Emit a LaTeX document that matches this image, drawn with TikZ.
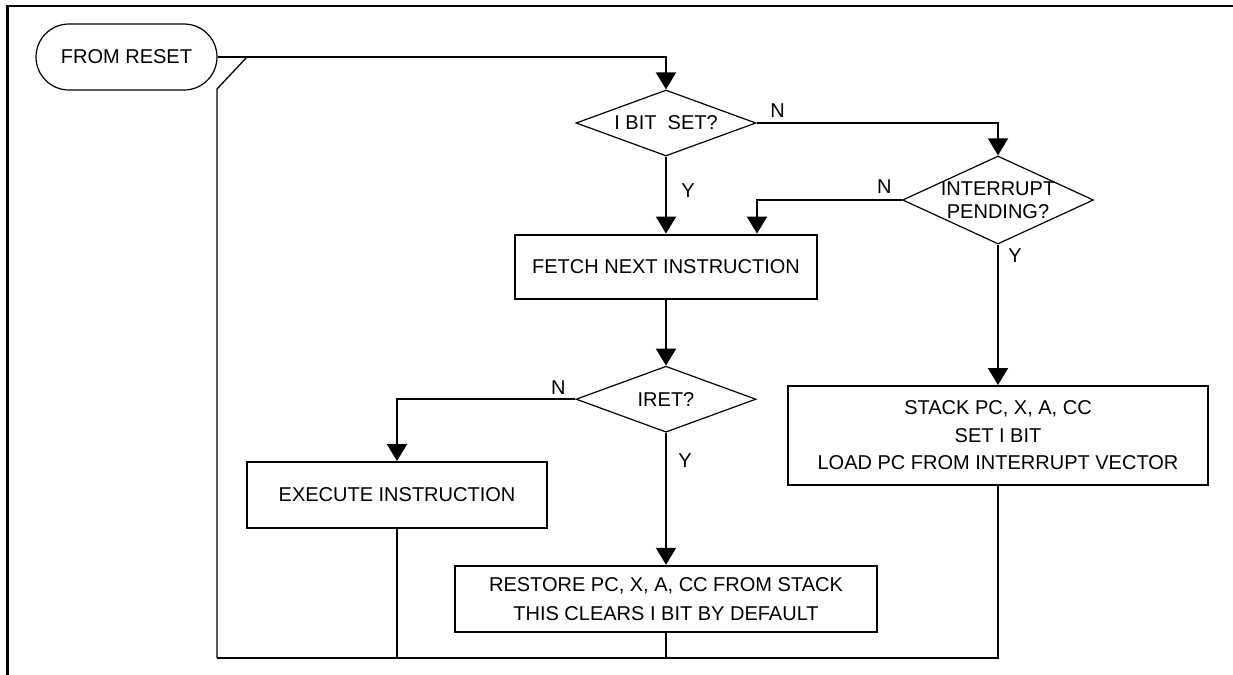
\documentclass[tikz,border=0pt]{standalone}
\usepackage{fontspec}
\setmainfont{Liberation Sans}
\usetikzlibrary{arrows.meta, positioning, shapes.geometric}
\newcommand{\flowfont}{\fontsize{10}{12}\selectfont}
\tikzset {
  terminal/.style = {draw, line width=0.6pt, rectangle, rounded corners=16.5pt, minimum width=90.5pt, minimum height=33pt, font=\flowfont},
  box/.style = {draw, line width=1pt, rectangle, align=center, fill=white, font=\flowfont},
  decision/.style = {draw, line width=0.6pt, diamond, inner sep=0pt, align=center, font=\flowfont},
  line/.style = {line width=1pt, -{Triangle[length=8.5pt, width=10pt]}},
  back/.style = {line width=1pt},
  thinback/.style = {line width=0.65pt},
  lbl/.style = {inner sep=0pt, font=\flowfont},
}

\begin{document}
\begin{tikzpicture}[x=0.5pt, y=-0.5pt]
    \useasboundingbox (0,0) rectangle (1233,675);

    % frame of the figure
    \draw[line width=1.25pt] (7.5,675) -- (7.5,6) -- (1233,6);

    \node[terminal] (reset) at (126.5,57) {FROM RESET};
    \node[decision, minimum width=90pt, minimum height=33pt, aspect=2.7] (ibit) at (666,123) {I BIT \ SET?};
    \node[decision, minimum width=95.5pt, minimum height=44pt, aspect=2.17, inner sep=-1pt] (intr) at (998,200) {INTERRUPT\\[-0.7pt]PENDING?};

    \node[box, minimum width=151pt, minimum height=32pt, below=38.5pt of ibit] (fetch) {FETCH NEXT INSTRUCTION};
    \node[decision, minimum width=90pt, minimum height=33pt, aspect=2.7, below=33pt of fetch] (iret) {IRET?};
    \node[box, minimum width=211pt, minimum height=33pt, below=66pt of iret] (restore) {RESTORE PC, X, A, CC FROM STACK\\[2.5pt]THIS CLEARS I BIT BY DEFAULT};

    \node[box, minimum width=150pt, minimum height=33pt] (exec) at (397,495) {EXECUTE INSTRUCTION};
    \node[box, minimum width=210pt, minimum height=49.5pt] (stack) at (998,435.5) {STACK PC, X, A, CC\\[1.75pt]SET I BIT\\[1.75pt]LOAD PC FROM INTERRUPT VECTOR};

    % yes / no labels
    \node[lbl] (ibitN) at ([shift={(21,-12)}]ibit.east) {N};
    \node[lbl] (ibitY) at ([shift={(22,34)}]ibit.south) {Y};
    \node[lbl] (intrN) at ([shift={(-17.5,-13)}]intr.west) {N};
    \node[lbl] (intrY) at ([shift={(17,11)}]intr.south) {Y};
    \node[lbl] (iretN) at ([shift={(-17,-12)}]iret.west) {N};
    \node[lbl] (iretY) at ([shift={(19,28)}]iret.south) {Y};

    \coordinate (join) at (247,57);
    \coordinate (kink) at (217,89);
    \coordinate (botL) at (217,658);
    \coordinate (botR) at (998,658);

    \draw[line] (reset.east) -| (ibit.north);
    \draw[line] (ibit.east) -| (intr.north);
    \draw[line] (ibit.south) -- (fetch.north);
    \draw[line] (intr.west) -| ([xshift=45.5pt]fetch.north);
    \draw[line] (intr.south) -- (stack.north);
    \draw[line] (fetch.south) -- (iret.north);
    \draw[line] (iret.west) -| (exec.north);
    \draw[line] (iret.south) -- (restore.north);

    % way back to the top
    \draw[back] (stack.south) -- (botR) -- (botL);
    \draw[back] (exec.south) -- (exec.south |- botL);
    \draw[back] (restore.south) -- (restore.south |- botL);
    \draw[thinback] (botL) -- (kink) -- (join);

  \end{tikzpicture}
\end{document}
